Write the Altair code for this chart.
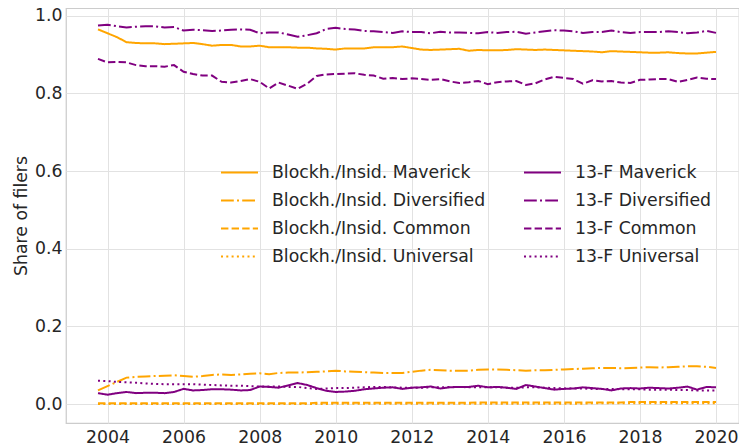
import altair as alt
import pandas as pd

# quarter-end dates as decimal years (2003Q3 .. 2019Q4)
years = [2003.75 + 0.25 * i for i in range(66)]

blk_maverick = [0.965, 0.955, 0.945, 0.932, 0.930, 0.929, 0.929, 0.927, 0.928, 0.929,
                0.930, 0.927, 0.923, 0.925, 0.925, 0.921, 0.921, 0.923, 0.919, 0.919,
                0.919, 0.918, 0.918, 0.916, 0.915, 0.913, 0.916, 0.916, 0.916, 0.919,
                0.919, 0.919, 0.921, 0.917, 0.913, 0.912, 0.913, 0.914, 0.915, 0.910,
                0.912, 0.911, 0.911, 0.912, 0.914, 0.913, 0.912, 0.913, 0.912, 0.911,
                0.910, 0.909, 0.908, 0.906, 0.909, 0.908, 0.907, 0.906, 0.905, 0.905,
                0.906, 0.904, 0.903, 0.903, 0.905, 0.907]
blk_diversified = [0.035, 0.046, 0.057, 0.068, 0.070, 0.071, 0.072, 0.073, 0.074, 0.072,
                   0.070, 0.072, 0.075, 0.076, 0.075, 0.076, 0.078, 0.079, 0.077, 0.080,
                   0.081, 0.081, 0.082, 0.083, 0.084, 0.086, 0.084, 0.083, 0.082, 0.081,
                   0.080, 0.080, 0.080, 0.083, 0.086, 0.088, 0.087, 0.086, 0.086, 0.086,
                   0.088, 0.089, 0.089, 0.088, 0.087, 0.086, 0.087, 0.087, 0.088, 0.089,
                   0.090, 0.091, 0.092, 0.093, 0.093, 0.092, 0.093, 0.094, 0.095, 0.094,
                   0.095, 0.096, 0.097, 0.097, 0.096, 0.093]
blk_common = [0.002, 0.002, 0.002, 0.002, 0.002, 0.002, 0.002, 0.002, 0.002, 0.002,
              0.002, 0.002, 0.002, 0.002, 0.002, 0.002, 0.002, 0.002, 0.002, 0.002,
              0.002, 0.002, 0.002, 0.003, 0.003, 0.003, 0.003, 0.003, 0.003, 0.003,
              0.003, 0.003, 0.003, 0.003, 0.003, 0.003, 0.003, 0.003, 0.003, 0.003,
              0.004, 0.004, 0.004, 0.004, 0.004, 0.004, 0.004, 0.004, 0.004, 0.004,
              0.004, 0.004, 0.004, 0.004, 0.004, 0.004, 0.005, 0.005, 0.005, 0.005,
              0.005, 0.005, 0.005, 0.005, 0.005, 0.005]
blk_universal = [0.000, 0.000, 0.000, 0.000, 0.000, 0.000, 0.000, 0.000, 0.000, 0.000,
                 0.000, 0.000, 0.000, 0.000, 0.000, 0.000, 0.000, 0.000, 0.000, 0.000,
                 0.000, 0.000, 0.000, 0.000, 0.000, 0.001, 0.001, 0.001, 0.001, 0.001,
                 0.001, 0.001, 0.001, 0.001, 0.001, 0.001, 0.001, 0.001, 0.001, 0.001,
                 0.001, 0.001, 0.001, 0.001, 0.001, 0.001, 0.001, 0.001, 0.001, 0.001,
                 0.001, 0.001, 0.002, 0.002, 0.002, 0.002, 0.002, 0.002, 0.002, 0.002,
                 0.002, 0.002, 0.002, 0.002, 0.002, 0.002]
f13_maverick = [0.028, 0.024, 0.028, 0.031, 0.028, 0.029, 0.029, 0.028, 0.031, 0.039,
                0.035, 0.036, 0.038, 0.038, 0.037, 0.035, 0.036, 0.045, 0.044, 0.042,
                0.048, 0.054, 0.049, 0.041, 0.034, 0.031, 0.032, 0.034, 0.038, 0.040,
                0.042, 0.043, 0.039, 0.042, 0.043, 0.045, 0.040, 0.043, 0.044, 0.044,
                0.047, 0.043, 0.044, 0.042, 0.039, 0.049, 0.045, 0.041, 0.037, 0.039,
                0.040, 0.043, 0.041, 0.039, 0.035, 0.040, 0.041, 0.040, 0.042, 0.041,
                0.040, 0.042, 0.045, 0.037, 0.044, 0.043]
f13_diversified = [0.975, 0.977, 0.973, 0.970, 0.972, 0.973, 0.973, 0.970, 0.971, 0.962,
                   0.964, 0.963, 0.961, 0.962, 0.964, 0.965, 0.964, 0.955, 0.957, 0.957,
                   0.952, 0.946, 0.950, 0.955, 0.966, 0.969, 0.966, 0.965, 0.961, 0.960,
                   0.958, 0.956, 0.960, 0.958, 0.958, 0.955, 0.959, 0.957, 0.957, 0.956,
                   0.955, 0.958, 0.956, 0.958, 0.959, 0.954, 0.957, 0.960, 0.963, 0.962,
                   0.960, 0.956, 0.958, 0.958, 0.962, 0.958, 0.956, 0.958, 0.958, 0.958,
                   0.960, 0.958, 0.955, 0.957, 0.961, 0.956]
f13_common = [0.889, 0.880, 0.881, 0.880, 0.873, 0.870, 0.870, 0.869, 0.873, 0.856,
              0.850, 0.846, 0.846, 0.830, 0.828, 0.832, 0.837, 0.830, 0.813, 0.828,
              0.820, 0.812, 0.825, 0.845, 0.849, 0.850, 0.851, 0.852, 0.848, 0.846,
              0.838, 0.840, 0.837, 0.839, 0.837, 0.835, 0.837, 0.831, 0.827, 0.829,
              0.832, 0.824, 0.829, 0.831, 0.832, 0.822, 0.826, 0.836, 0.843, 0.840,
              0.837, 0.825, 0.834, 0.831, 0.832, 0.828, 0.827, 0.835, 0.836, 0.837,
              0.837, 0.830, 0.835, 0.841, 0.838, 0.837]
f13_universal = [0.060, 0.059, 0.057, 0.056, 0.055, 0.053, 0.052, 0.051, 0.051, 0.051,
                 0.051, 0.050, 0.049, 0.048, 0.047, 0.047, 0.046, 0.045, 0.045, 0.045,
                 0.044, 0.044, 0.041, 0.039, 0.040, 0.041, 0.041, 0.042, 0.043, 0.044,
                 0.044, 0.043, 0.042, 0.042, 0.042, 0.043, 0.043, 0.044, 0.044, 0.043,
                 0.043, 0.043, 0.043, 0.042, 0.042, 0.043, 0.043, 0.042, 0.041, 0.040,
                 0.040, 0.040, 0.039, 0.039, 0.039, 0.038, 0.038, 0.038, 0.037, 0.037,
                 0.037, 0.036, 0.036, 0.035, 0.035, 0.035]

blk_series = {
    "Blockh./Insid. Maverick": blk_maverick,
    "Blockh./Insid. Diversified": blk_diversified,
    "Blockh./Insid. Common": blk_common,
    "Blockh./Insid. Universal": blk_universal,
}
f13_series = {
    "13-F Maverick": f13_maverick,
    "13-F Diversified": f13_diversified,
    "13-F Common": f13_common,
    "13-F Universal": f13_universal,
}

# legend fills column by column
legend_order = ["Blockh./Insid. Maverick", "Blockh./Insid. Diversified",
                "Blockh./Insid. Common", "Blockh./Insid. Universal",
                "13-F Maverick", "13-F Diversified", "13-F Common", "13-F Universal"]
ORANGE = "#FFA500"
PURPLE = "#800080"
SOLID = [1, 0]
DASHDOT = [12.8, 3.2, 2, 3.2]
DASHED = [7.4, 3.2]
DOTTED = [2, 3.3]
color_range = [ORANGE, ORANGE, ORANGE, ORANGE, PURPLE, PURPLE, PURPLE, PURPLE]
dash_range = [SOLID, DASHDOT, DASHED, DOTTED, SOLID, DASHDOT, DASHED, DOTTED]


def to_long(d):
    rows = []
    for name, vals in d.items():
        for yr, v in zip(years, vals):
            rows.append({"year": yr, "share": v, "series": name})
    return pd.DataFrame(rows)


FONT = "DejaVu Sans"
TXT = "#262626"
FS = 17.3

x_enc = alt.X("year:Q", scale=alt.Scale(domain=[2002.9087, 2020.6048], nice=False, zero=False),
              axis=alt.Axis(values=list(range(2004, 2021, 2)), format="d", title=None,
                            labelPadding=5))
y_enc = alt.Y("share:Q", scale=alt.Scale(domain=[-0.0489, 1.0201], nice=False, zero=False),
              axis=alt.Axis(values=[0.0, 0.2, 0.4, 0.6, 0.8, 1.0], format=".1f",
                            title="Share of filers", labelPadding=4, titlePadding=4))
color_enc = alt.Color("series:N", scale=alt.Scale(domain=legend_order, range=color_range),
                      legend=alt.Legend(title=None, orient="none", legendX=154, legendY=145,
                                        columns=2, direction="vertical",
                                        symbolType="stroke", symbolSize=1369,
                                        symbolStrokeWidth=2, labelFontSize=FS,
                                        labelFont=FONT, labelColor=TXT, labelOffset=13,
                                        columnPadding=34, rowPadding=-10,
                                        labelLimit=400))
dash_enc = alt.StrokeDash("series:N", scale=alt.Scale(domain=legend_order, range=dash_range),
                          legend=None)

base_blk = alt.Chart(to_long(blk_series)).mark_line(strokeWidth=2, clip=True).encode(
    x=x_enc, y=y_enc, color=color_enc, strokeDash=dash_enc, detail="series:N")
base_f13 = alt.Chart(to_long(f13_series)).mark_line(strokeWidth=2, clip=True).encode(
    x=x_enc, y=y_enc, color=color_enc, strokeDash=dash_enc, detail="series:N")

chart = alt.layer(base_blk, base_f13).properties(
    width=673, height=415,
    autosize=alt.AutoSizeParams(type="none"),
    padding={"left": 58, "top": 0, "right": 0, "bottom": 24},
).configure_view(
    stroke="#cccccc", strokeWidth=1.25
).configure_axis(
    domain=False, ticks=False, grid=True, gridColor="#e2e2e2", gridWidth=1,
    labelFont=FONT, labelFontSize=FS, labelColor=TXT,
    titleFont=FONT, titleFontSize=FS, titleColor=TXT, titleFontWeight="normal"
)

chart.save("out.html", embed_options={"renderer": "svg", "actions": False})
